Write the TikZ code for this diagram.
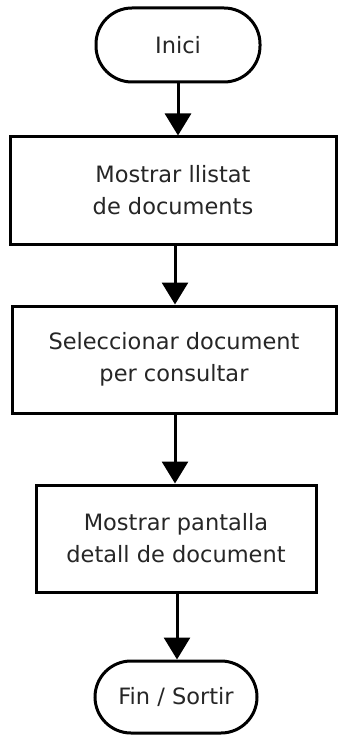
\documentclass[tikz,border=0pt]{standalone}
\usepackage{fontspec}
\setmainfont{DejaVu Sans}
\usetikzlibrary{arrows.meta}
\begin{document}
\begin{tikzpicture}[x=1pt,y=-1pt,
  base/.style={draw=black, line width=3pt, fill=white, align=center, inner sep=0pt,
    font=\fontsize{22.5}{32}\selectfont, text=black!85},
  term/.style={base, rounded corners=36pt},
  proc/.style={base, minimum height=107pt},
  conn/.style={line width=3pt, -{Triangle[width=26pt,length=22pt]}}]
\useasboundingbox (0,0) rectangle (338,735);
\node[term, minimum width=164pt, minimum height=74pt] (start) at (178,45) {Inici};
\node[proc, minimum width=326pt] (b1) at (173,190.5) {Mostrar llistat\\ de documents};
\node[proc, minimum width=324pt] (b2) at (174,359.5) {Seleccionar document\\per consultar};
\node[proc, minimum width=280pt] (b3) at (176,538.5) {Mostrar pantalla\\detall de document};
\node[term, minimum width=162pt, minimum height=72pt] (end) at (176,697) {Fin / Sortir};
\draw[conn] (start.south) -- (start.south |- b1.north);
\draw[conn] (b1.south -| 175,0) -- (b2.north -| 175,0);
\draw[conn] (b2.south -| 175,0) -- (b3.north -| 175,0);
\draw[conn] (b3.south -| 177,0) -- (end.north -| 177,0);
\end{tikzpicture}
\end{document}
